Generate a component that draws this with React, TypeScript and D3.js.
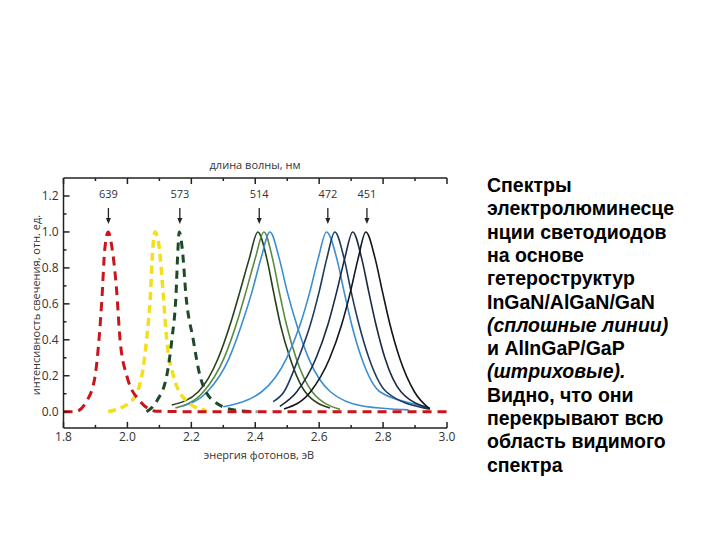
import React from "react";
import * as d3 from "d3";

type Pt = [number, number];

// x ticks (photon energy, eV) and y ticks (relative intensity)
const xMajorTicks = [1.8, 2.0, 2.2, 2.4, 2.6, 2.8, 3.0];
const xMinorTicks = [1.9, 2.1, 2.3, 2.5, 2.7, 2.9];
const yMajorTicks = [0.0, 0.2, 0.4, 0.6, 0.8, 1.0, 1.2];
const yMinorTicks = [0.1, 0.3, 0.5, 0.7, 0.9, 1.1];
const wavelengths = [639, 573, 514, 472, 451];

// AlInGaP/GaP (dashed)
const redDashed: Pt[] = [
  [1.8, 0], [1.836, 0], [1.873, 0.06], [1.899, 0.2], [1.911, 0.4], [1.92, 0.62],
  [1.929, 0.9], [1.94, 1.0], [1.951, 0.92], [1.966, 0.68], [1.977, 0.4],
  [1.998, 0.2], [2.039, 0.06], [2.09, 0.003], [2.2, 0], [3.0, 0],
];
const yellowDashed: Pt[] = [
  [1.94, 0], [2.013, 0.06], [2.045, 0.2], [2.06, 0.4], [2.071, 0.62], [2.08, 0.92],
  [2.086, 1.0], [2.099, 0.92], [2.111, 0.68], [2.123, 0.4], [2.144, 0.2],
  [2.185, 0.06], [2.248, 0.005],
];
const darkGreenDashed: Pt[] = [
  [2.06, 0], [2.092, 0.06], [2.123, 0.2], [2.139, 0.4], [2.152, 0.65], [2.158, 0.9],
  [2.162, 1.0], [2.172, 0.9], [2.183, 0.65], [2.206, 0.4], [2.227, 0.2],
  [2.269, 0.06], [2.34, 0.008], [2.404, 0],
];

// InGaN/AlGaN/GaN (solid)
const greenA: Pt[] = [
  [2.139, 0.037], [2.222, 0.111], [2.284, 0.297], [2.321, 0.482], [2.352, 0.668],
  [2.3815, 0.853], [2.408, 1.0], [2.436, 0.853], [2.457, 0.668], [2.479, 0.482],
  [2.509, 0.297], [2.556, 0.111], [2.634, 0.02],
];
const greenB: Pt[] = [
  [2.15, 0.02], [2.238, 0.111], [2.302, 0.297], [2.34, 0.482], [2.371, 0.668],
  [2.4, 0.853], [2.427, 1.0], [2.454, 0.853], [2.475, 0.668], [2.498, 0.482],
  [2.528, 0.297], [2.578, 0.111], [2.665, 0.013],
];
const blueC: Pt[] = [
  [2.17, 0.03], [2.25, 0.111], [2.318, 0.297], [2.357, 0.482], [2.39, 0.668],
  [2.418, 0.853], [2.446, 1.0], [2.475, 0.853], [2.5, 0.668], [2.53, 0.482],
  [2.567, 0.297], [2.635, 0.111], [2.74, 0.03], [2.88, 0.01],
];
const blueD: Pt[] = [
  [2.3, 0.028], [2.42, 0.111], [2.498, 0.297], [2.54, 0.482], [2.571, 0.668],
  [2.597, 0.853], [2.623, 1.0], [2.655, 0.853], [2.678, 0.668], [2.702, 0.482],
  [2.733, 0.297], [2.79, 0.111], [2.926, 0.028], [2.946, 0.015],
];
const navyE: Pt[] = [
  [2.456, 0.056], [2.49, 0.111], [2.535, 0.297], [2.572, 0.482], [2.6, 0.668],
  [2.624, 0.853], [2.649, 1.0], [2.678, 0.853], [2.7, 0.668], [2.725, 0.482],
  [2.756, 0.297], [2.81, 0.111], [2.93, 0.02], [2.946, 0.015],
];
const darkF: Pt[] = [
  [2.477, 0.03], [2.53, 0.111], [2.59, 0.297], [2.627, 0.482], [2.655, 0.668],
  [2.68, 0.853], [2.705, 1.0], [2.733, 0.853], [2.755, 0.668], [2.778, 0.482],
  [2.806, 0.297], [2.856, 0.111], [2.946, 0.02],
];
const blackG: Pt[] = [
  [2.49, 0.015], [2.573, 0.111], [2.633, 0.297], [2.67, 0.482], [2.698, 0.668],
  [2.722, 0.853], [2.746, 1.0], [2.775, 0.853], [2.798, 0.668], [2.822, 0.482],
  [2.852, 0.297], [2.898, 0.111], [2.946, 0.015],
];

const solidSeries = [
  { data: greenA, color: "#26401a" },
  { data: greenB, color: "#5a8a3c" },
  { data: blueC, color: "#3a8ed2" },
  { data: blueD, color: "#3a8ed2" },
  { data: navyE, color: "#1f3a5e" },
  { data: darkF, color: "#1b2a44" },
  { data: blackG, color: "#12161e" },
];
const dashedSeries = [
  { data: yellowDashed, color: "#f3df1e", dash: "8,5", w: 3.5 },
  { data: darkGreenDashed, color: "#1d4a28", dash: "8,6", w: 3 },
  { data: redDashed, color: "#c8161d", dash: "9,6", w: 3 },
];

const textLines: { t: string; italic?: boolean }[] = [
  { t: "Спектры" },
  { t: "электролюминесце" },
  { t: "нции светодиодов" },
  { t: "на основе" },
  { t: "гетероструктур" },
  { t: "InGaN/AlGaN/GaN" },
  { t: "(сплошные линии)", italic: true },
  { t: "и AlInGaP/GaP" },
  { t: "(штриховые).", italic: true },
  { t: "Видно, что они" },
  { t: "перекрывают всю" },
  { t: "область видимого" },
  { t: "спектра" },
];

export default function App() {
  const x = d3.scaleLinear().domain([1.8, 3.0]).range([63.5, 447]);
  const y = d3.scaleLinear().domain([0, 1.2]).range([411.7, 196]);
  const yBottom = y(-0.09);
  const yTop = y(1.3);
  const line = d3
    .line<Pt>()
    .x((d) => x(d[0]))
    .y((d) => y(d[1]))
    .curve(d3.curveMonotoneX);
  const axisColor = "#222";
  const font = "'Open Sans', 'DejaVu Sans', sans-serif";
  const fmt = d3.format(".1f");

  return (
    <svg
      width={720}
      height={540}
      style={{ position: "absolute", left: 0, top: 0, background: "#fff" }}
    >
      {/* curves */}
      {solidSeries.map((s, i) => (
        <path key={"s" + i} d={line(s.data) || ""} fill="none" stroke={s.color} strokeWidth={1.6} />
      ))}
      {dashedSeries.map((s, i) => (
        <path
          key={"d" + i}
          d={line(s.data) || ""}
          fill="none"
          stroke={s.color}
          strokeWidth={s.w}
          strokeDasharray={s.dash}
        />
      ))}

      {/* axes */}
      <line x1={x(1.8)} x2={x(1.8)} y1={yTop} y2={yBottom} stroke={axisColor} strokeWidth={1.5} />
      <line x1={x(1.8)} x2={x(3.0)} y1={yBottom} y2={yBottom} stroke={axisColor} strokeWidth={1.5} />
      <line x1={x(1.8)} x2={x(3.0)} y1={yTop} y2={yTop} stroke={axisColor} strokeWidth={1.5} />

      {xMajorTicks.map((t) => (
        <g key={"xm" + t}>
          <line x1={x(t)} x2={x(t)} y1={yBottom} y2={yBottom - 6} stroke={axisColor} strokeWidth={1.5} />
          <line x1={x(t)} x2={x(t)} y1={yTop} y2={yTop + 6} stroke={axisColor} strokeWidth={1.5} />
          <text x={x(t)} y={yBottom + 13} textAnchor="middle" fontSize={12} fill="#333" fontFamily={font}>
            {fmt(t)}
          </text>
        </g>
      ))}
      {xMinorTicks.map((t) => (
        <g key={"xn" + t}>
          <line x1={x(t)} x2={x(t)} y1={yBottom} y2={yBottom - 3} stroke={axisColor} strokeWidth={1.5} />
          <line x1={x(t)} x2={x(t)} y1={yTop} y2={yTop + 3} stroke={axisColor} strokeWidth={1.5} />
        </g>
      ))}
      {yMajorTicks.map((t) => (
        <g key={"ym" + t}>
          <line x1={x(1.8)} x2={x(1.8) + 6} y1={y(t)} y2={y(t)} stroke={axisColor} strokeWidth={1.5} />
          <text x={x(1.8) - 5} y={y(t) + 4} textAnchor="end" fontSize={12} fill="#333" fontFamily={font}>
            {fmt(t)}
          </text>
        </g>
      ))}
      {yMinorTicks.map((t) => (
        <line key={"yn" + t} x1={x(1.8)} x2={x(1.8) + 3} y1={y(t)} y2={y(t)} stroke={axisColor} strokeWidth={1.5} />
      ))}

      {/* wavelength annotations */}
      {wavelengths.map((w) => {
        const px = x(1240 / w);
        return (
          <g key={"w" + w}>
            <text x={px} y={198} textAnchor="middle" fontSize={11} fill="#333" fontFamily={font}>
              {w}
            </text>
            <line x1={px} x2={px} y1={208} y2={219} stroke="#222" strokeWidth={1.3} />
            <path d={`M${px - 2.5},${218} L${px + 2.5},${218} L${px},${224} Z`} fill="#222" />
          </g>
        );
      })}

      {/* axis titles */}
      <text x={255} y={169} textAnchor="middle" fontSize={11} fill="#333" fontFamily={font}>
        длина волны, нм
      </text>
      <text x={259} y={459} textAnchor="middle" fontSize={11} fill="#333" fontFamily={font}>
        энергия фотонов, эВ
      </text>
      <text
        transform={`translate(40, 305) rotate(-90)`}
        textAnchor="middle"
        fontSize={11}
        fill="#333"
        fontFamily={font}
      >
        интенсивность свечения, отн. ед.
      </text>

      {/* side text */}
      {textLines.map((l, i) => (
        <text
          key={"t" + i}
          x={487}
          y={192 + i * 23.3}
          fontSize={19.5}
          fontWeight="bold"
          fontStyle={l.italic ? "italic" : "normal"}
          fill="#000"
          fontFamily="'Liberation Sans', Arial, sans-serif"
        >
          {l.t}
        </text>
      ))}
    </svg>
  );
}
